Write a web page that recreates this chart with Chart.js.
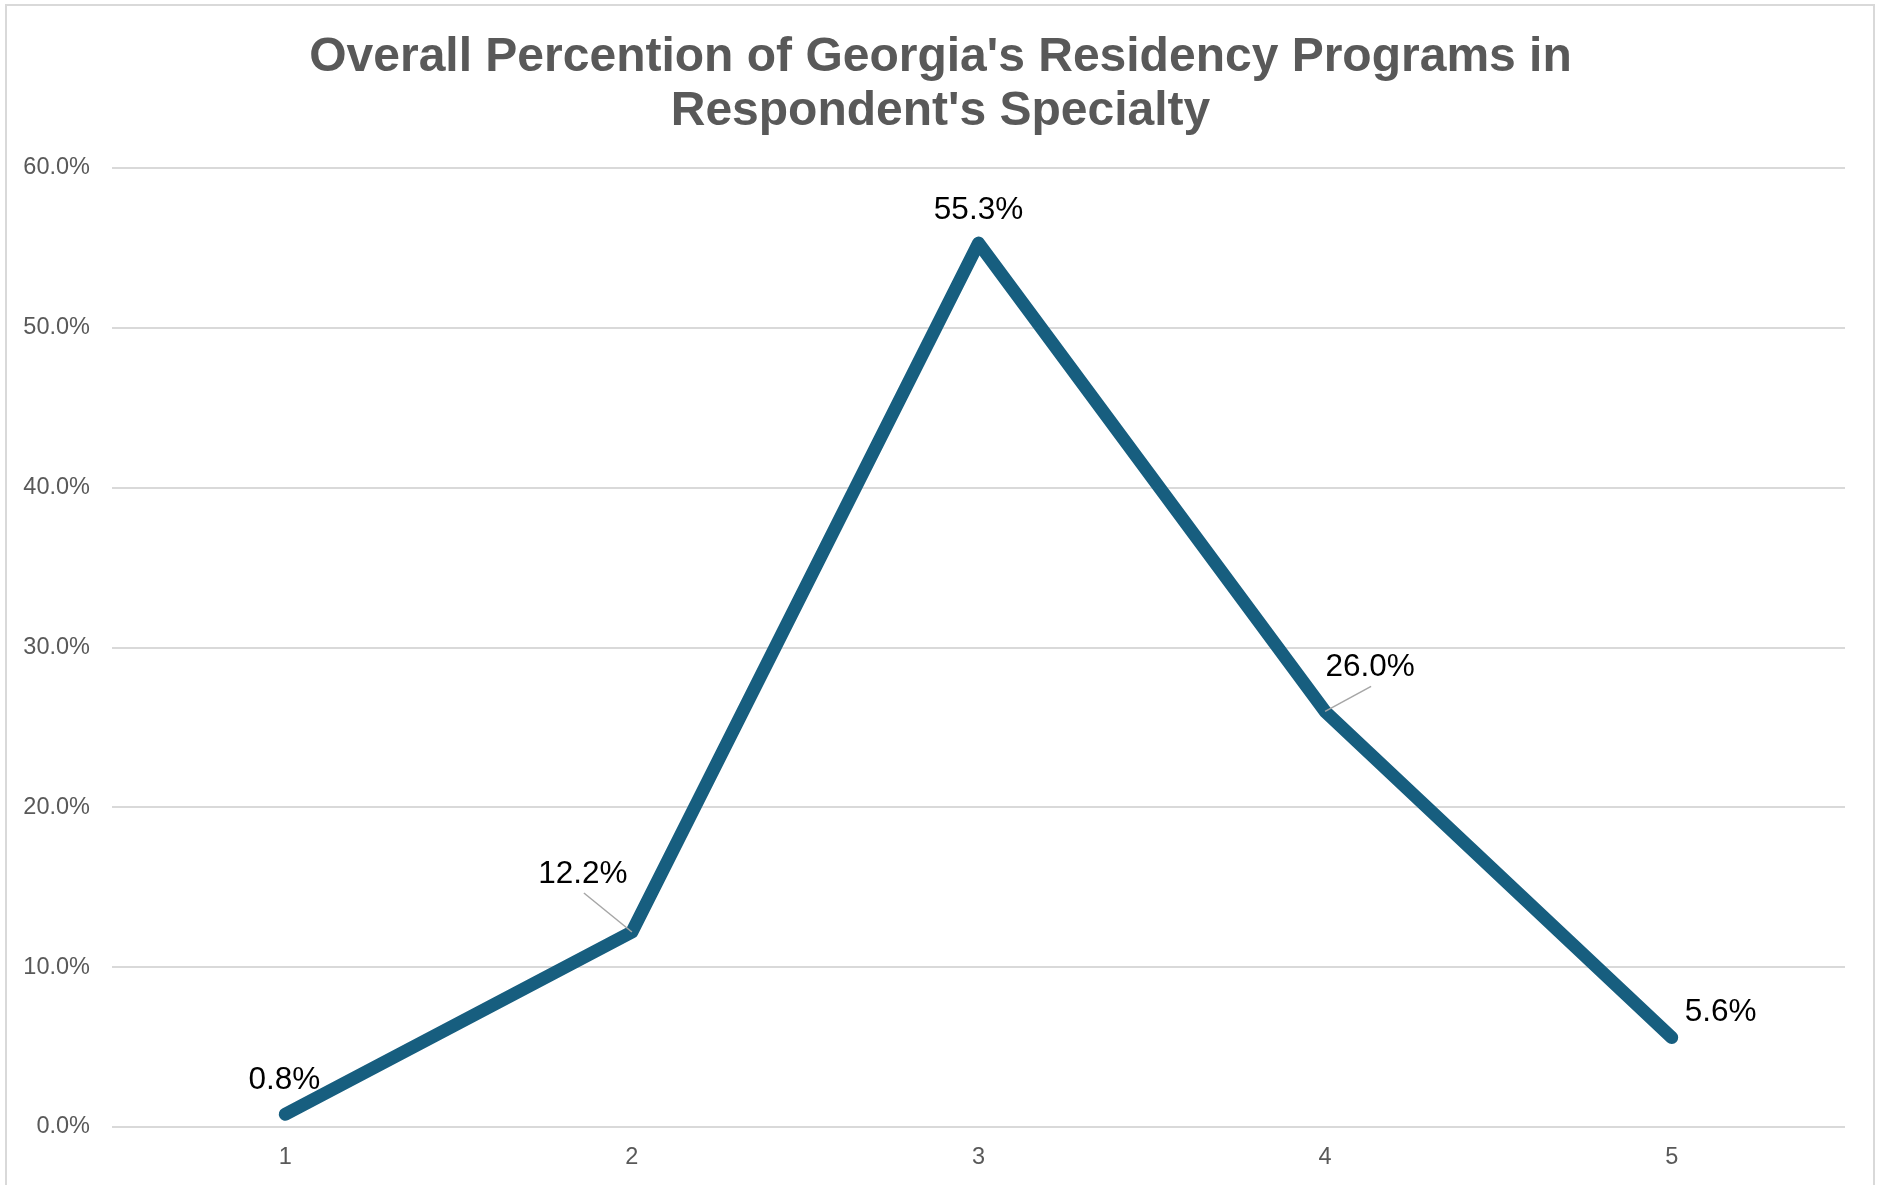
<!DOCTYPE html>
<html>
<head>
<meta charset="utf-8">
<script src="https://cdn.jsdelivr.net/npm/chart.js@4.4.1/dist/chart.umd.min.js"></script>
<style>
  html, body { margin: 0; padding: 0; background: #ffffff; overflow: hidden; }
  canvas { display: block; }
</style>
</head>
<body>
<canvas id="chart" width="1881" height="1185"></canvas>
<script>
// dati
const categories = ['1', '2', '3', '4', '5'];
const percentValues = [0.8, 12.2, 55.3, 26.0, 5.6];
const yTicks = [0, 10, 20, 30, 40, 50, 60];

// posizione delle etichette rispetto al punto (pixel) e linee guida
const labelOffsets = [[-1, -34], [-49, -58], [0, -33], [45, -44], [49, -25]];
const leaderStarts = [null, [-48, -39], null, [46, -25], null];

const frameAndLabels = {
  id: 'frameAndLabels',
  beforeDraw(chart) {
    const ctx = chart.ctx;
    ctx.save();
    ctx.strokeStyle = '#d9d9d9';
    ctx.lineWidth = 2;
    ctx.strokeRect(6, 5, 1868, 1300);
    ctx.restore();
  },
  afterDatasetsDraw(chart) {
    const ctx = chart.ctx;
    const meta = chart.getDatasetMeta(0);
    ctx.save();
    meta.data.forEach(function (pt, i) {
      const lead = leaderStarts[i];
      if (lead) {
        ctx.strokeStyle = '#a6a6a6';
        ctx.lineWidth = 1.5;
        ctx.beginPath();
        ctx.moveTo(pt.x + lead[0], pt.y + lead[1]);
        ctx.lineTo(pt.x, pt.y);
        ctx.stroke();
      }
      ctx.fillStyle = '#000000';
      ctx.font = '31.5px "Liberation Sans", Arial, sans-serif';
      ctx.textAlign = 'center';
      ctx.textBaseline = 'middle';
      ctx.fillText(percentValues[i].toFixed(1) + '%', pt.x + labelOffsets[i][0], pt.y + labelOffsets[i][1]);
    });
    ctx.restore();
  }
};

const ctx = document.getElementById('chart').getContext('2d');
const chart = new Chart(ctx, {
  type: 'line',
  data: {
    labels: categories,
    datasets: [{
      data: percentValues,
      borderColor: '#175e7f',
      borderWidth: 13,
      borderCapStyle: 'round',
      borderJoinStyle: 'round',
      pointRadius: 0,
      tension: 0,
      fill: false
    }]
  },
  options: {
    responsive: false,
    animation: false,
    layout: { padding: { left: 18, right: 18, top: 0, bottom: 0 } },
    plugins: {
      legend: { display: false },
      tooltip: { enabled: false },
      title: {
        display: true,
        text: ["Overall Percention of Georgia's Residency Programs in", "Respondent's Specialty"],
        color: '#595959',
        font: { family: '"Liberation Sans", Arial, sans-serif', size: 48, weight: 'bold', lineHeight: 1.125 },
        padding: { top: 31, bottom: 29 }
      }
    },
    scales: {
      x: {
        offset: true,
        afterFit(scale) { scale.height = 58; },
        grid: { display: false, drawTicks: false },
        border: { display: false },
        ticks: {
          color: '#595959',
          padding: 16,
          font: { family: '"Liberation Sans", Arial, sans-serif', size: 23.5 }
        }
      },
      y: {
        min: 0,
        max: 60,
        afterFit(scale) { scale.width = 94; },
        afterBuildTicks(scale) { scale.ticks = yTicks.map(v => ({ value: v })); },
        grid: { color: '#d9d9d9', lineWidth: 2, drawTicks: false },
        border: { display: false },
        ticks: {
          color: '#595959',
          padding: 22,
          font: { family: '"Liberation Sans", Arial, sans-serif', size: 23.5 },
          callback: v => v.toFixed(1) + '%'
        }
      },
      yRight: {
        position: 'right',
        axis: 'y',
        min: 0,
        max: 60,
        afterFit(scale) { scale.width = 18; },
        grid: { display: false, drawTicks: false },
        border: { display: false },
        ticks: { display: false }
      }
    }
  },
  plugins: [frameAndLabels]
});
</script>
</body>
</html>
